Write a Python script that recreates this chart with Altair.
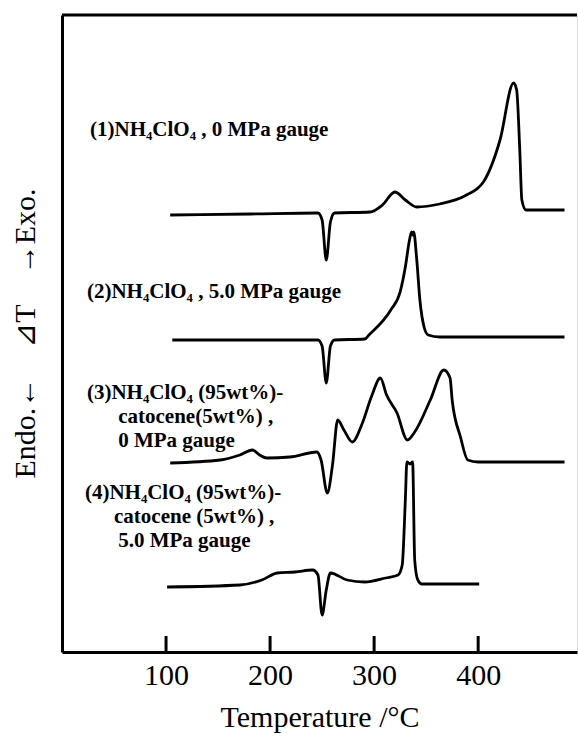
import altair as alt
import pandas as pd

# ---- data (temperature in °C, deflection of each DTA trace in arbitrary units) ----
T1 = [104, 181, 246, 250, 254, 258, 262, 296, 308, 320, 330, 341, 363, 387, 405, 421, 434, 437, 440, 442, 446, 483]
D1 = [0, 1, 2, -5, -45, -7, 2, 3, 10, 23, 15, 8, 11, 19, 33, 75, 132, 125, 65, 15, 5, 5]

T2 = [106, 246, 250, 254, 258, 262, 291, 295, 316, 325, 330, 334, 336, 337, 338, 341, 344, 348, 352, 363, 483]
D2 = [0, 0, -6, -43, -6, 0, 1, 5, 30, 48, 73, 100, 108, 105, 108, 80, 40, 13, 5, 3, 3]

T3 = [104, 152, 171, 183, 190, 197, 219, 245, 249, 255, 260, 265, 271, 279, 288, 298, 306, 312, 322, 332, 339,
      354, 367, 373, 375, 383, 390, 400, 483]
D3 = [0, 3, 8, 13, 8, 5, 6, 11, 3, -30, -2, 43, 33, 21, 38, 68, 85, 68, 50, 23, 31,
      63, 93, 85, 63, 26, 3, 1, 1]

T4 = [101, 171, 192, 207, 224, 241, 246, 250, 254, 258, 274, 291, 311, 323, 327, 330, 331.5, 334.5, 337,
      339, 342, 346, 401]
D4 = [0, 2, 7, 14, 15, 17, 12, -28, -3, 14, 7, 5, 9, 12, 22, 87, 125, 123, 125,
      27, 7, 3, 3]

OFFSETS = [437, 312, 189, 65]
X_TICKS = [100, 200, 300, 400]

LABEL_TEXT = ["(1)NH₄ClO₄ , 0 MPa gauge",
              "(2)NH₄ClO₄ , 5.0 MPa gauge",
              "(3)NH₄ClO₄ (95wt%)-", "catocene(5wt%) ,", "0 MPa gauge",
              "(4)NH₄ClO₄ (95wt%)-", "catocene (5wt%) ,", "5.0 MPa gauge"]
LABEL_T = [27, 24, 24, 54, 54, 22, 50, 54]
LABEL_V = [522, 360, 259, 235, 211, 159, 135, 111]

X_TITLE = "Temperature /°C"
Y_TITLE = "Endo.←\u2003⊿T\u2003→Exo."

# ---- build tables ----
rows = []
for i, (ts, ds) in enumerate([(T1, D1), (T2, D2), (T3, D3), (T4, D4)]):
    for k, (t, d) in enumerate(zip(ts, ds)):
        rows.append({"curve": i + 1, "order": k, "T": t, "v": OFFSETS[i] + d})
df = pd.DataFrame(rows)
labels = pd.DataFrame({"T": LABEL_T, "v": LABEL_V, "text": LABEL_TEXT})
ticks = pd.DataFrame({"T": X_TICKS})

W, H = 515, 637
SERIF = "Liberation Serif"

x = alt.X("T:Q",
          scale=alt.Scale(domain=[0, 495], nice=False, zero=False),
          axis=alt.Axis(values=X_TICKS, ticks=False, grid=False, domainColor="black", domainWidth=3,
                        labelFont=SERIF, labelFontSize=30, labelColor="black", labelPadding=8,
                        title=X_TITLE, titleFont=SERIF, titleFontSize=30, titleFontWeight="normal",
                        titleColor="black", titlePadding=12))
y = alt.Y("v:Q",
          scale=alt.Scale(domain=[0, H], nice=False, zero=False),
          axis=alt.Axis(ticks=False, labels=False, grid=False, domainColor="black", domainWidth=3,
                        title=Y_TITLE, titleFont=SERIF, titleFontSize=30, titleFontWeight="normal",
                        titleColor="black", titleAngle=270, titleAlign="center", titleBaseline="middle",
                        titleX=-37, titleY=318))

lines = alt.Chart(df).mark_line(color="black", strokeWidth=2.8, interpolate="monotone").encode(
    x=x, y=y, detail="curve:N", order="order:Q")

text = alt.Chart(labels).mark_text(align="left", baseline="middle", font=SERIF, fontSize=21,
                                   fontWeight="bold", color="black").encode(x=x, y=y, text="text:N")

tick_marks = alt.Chart(ticks).mark_rule(color="black", strokeWidth=3).encode(
    x=x, y=alt.value(H), y2=alt.value(H - 16))

top = alt.Chart(pd.DataFrame({"a": [0]})).mark_rule(color="black", strokeWidth=3).encode(
    x=alt.value(0), x2=alt.value(W), y=alt.value(0))

chart = alt.layer(lines, text, tick_marks, top).properties(
    width=W, height=H,
    autosize=alt.AutoSizeParams(type="none"),
    padding={"left": 62, "top": 15, "right": 1, "bottom": 85},
).configure_view(stroke=None).configure(background="white")

chart.save("out.html", embed_options={"renderer": "svg", "actions": False})
